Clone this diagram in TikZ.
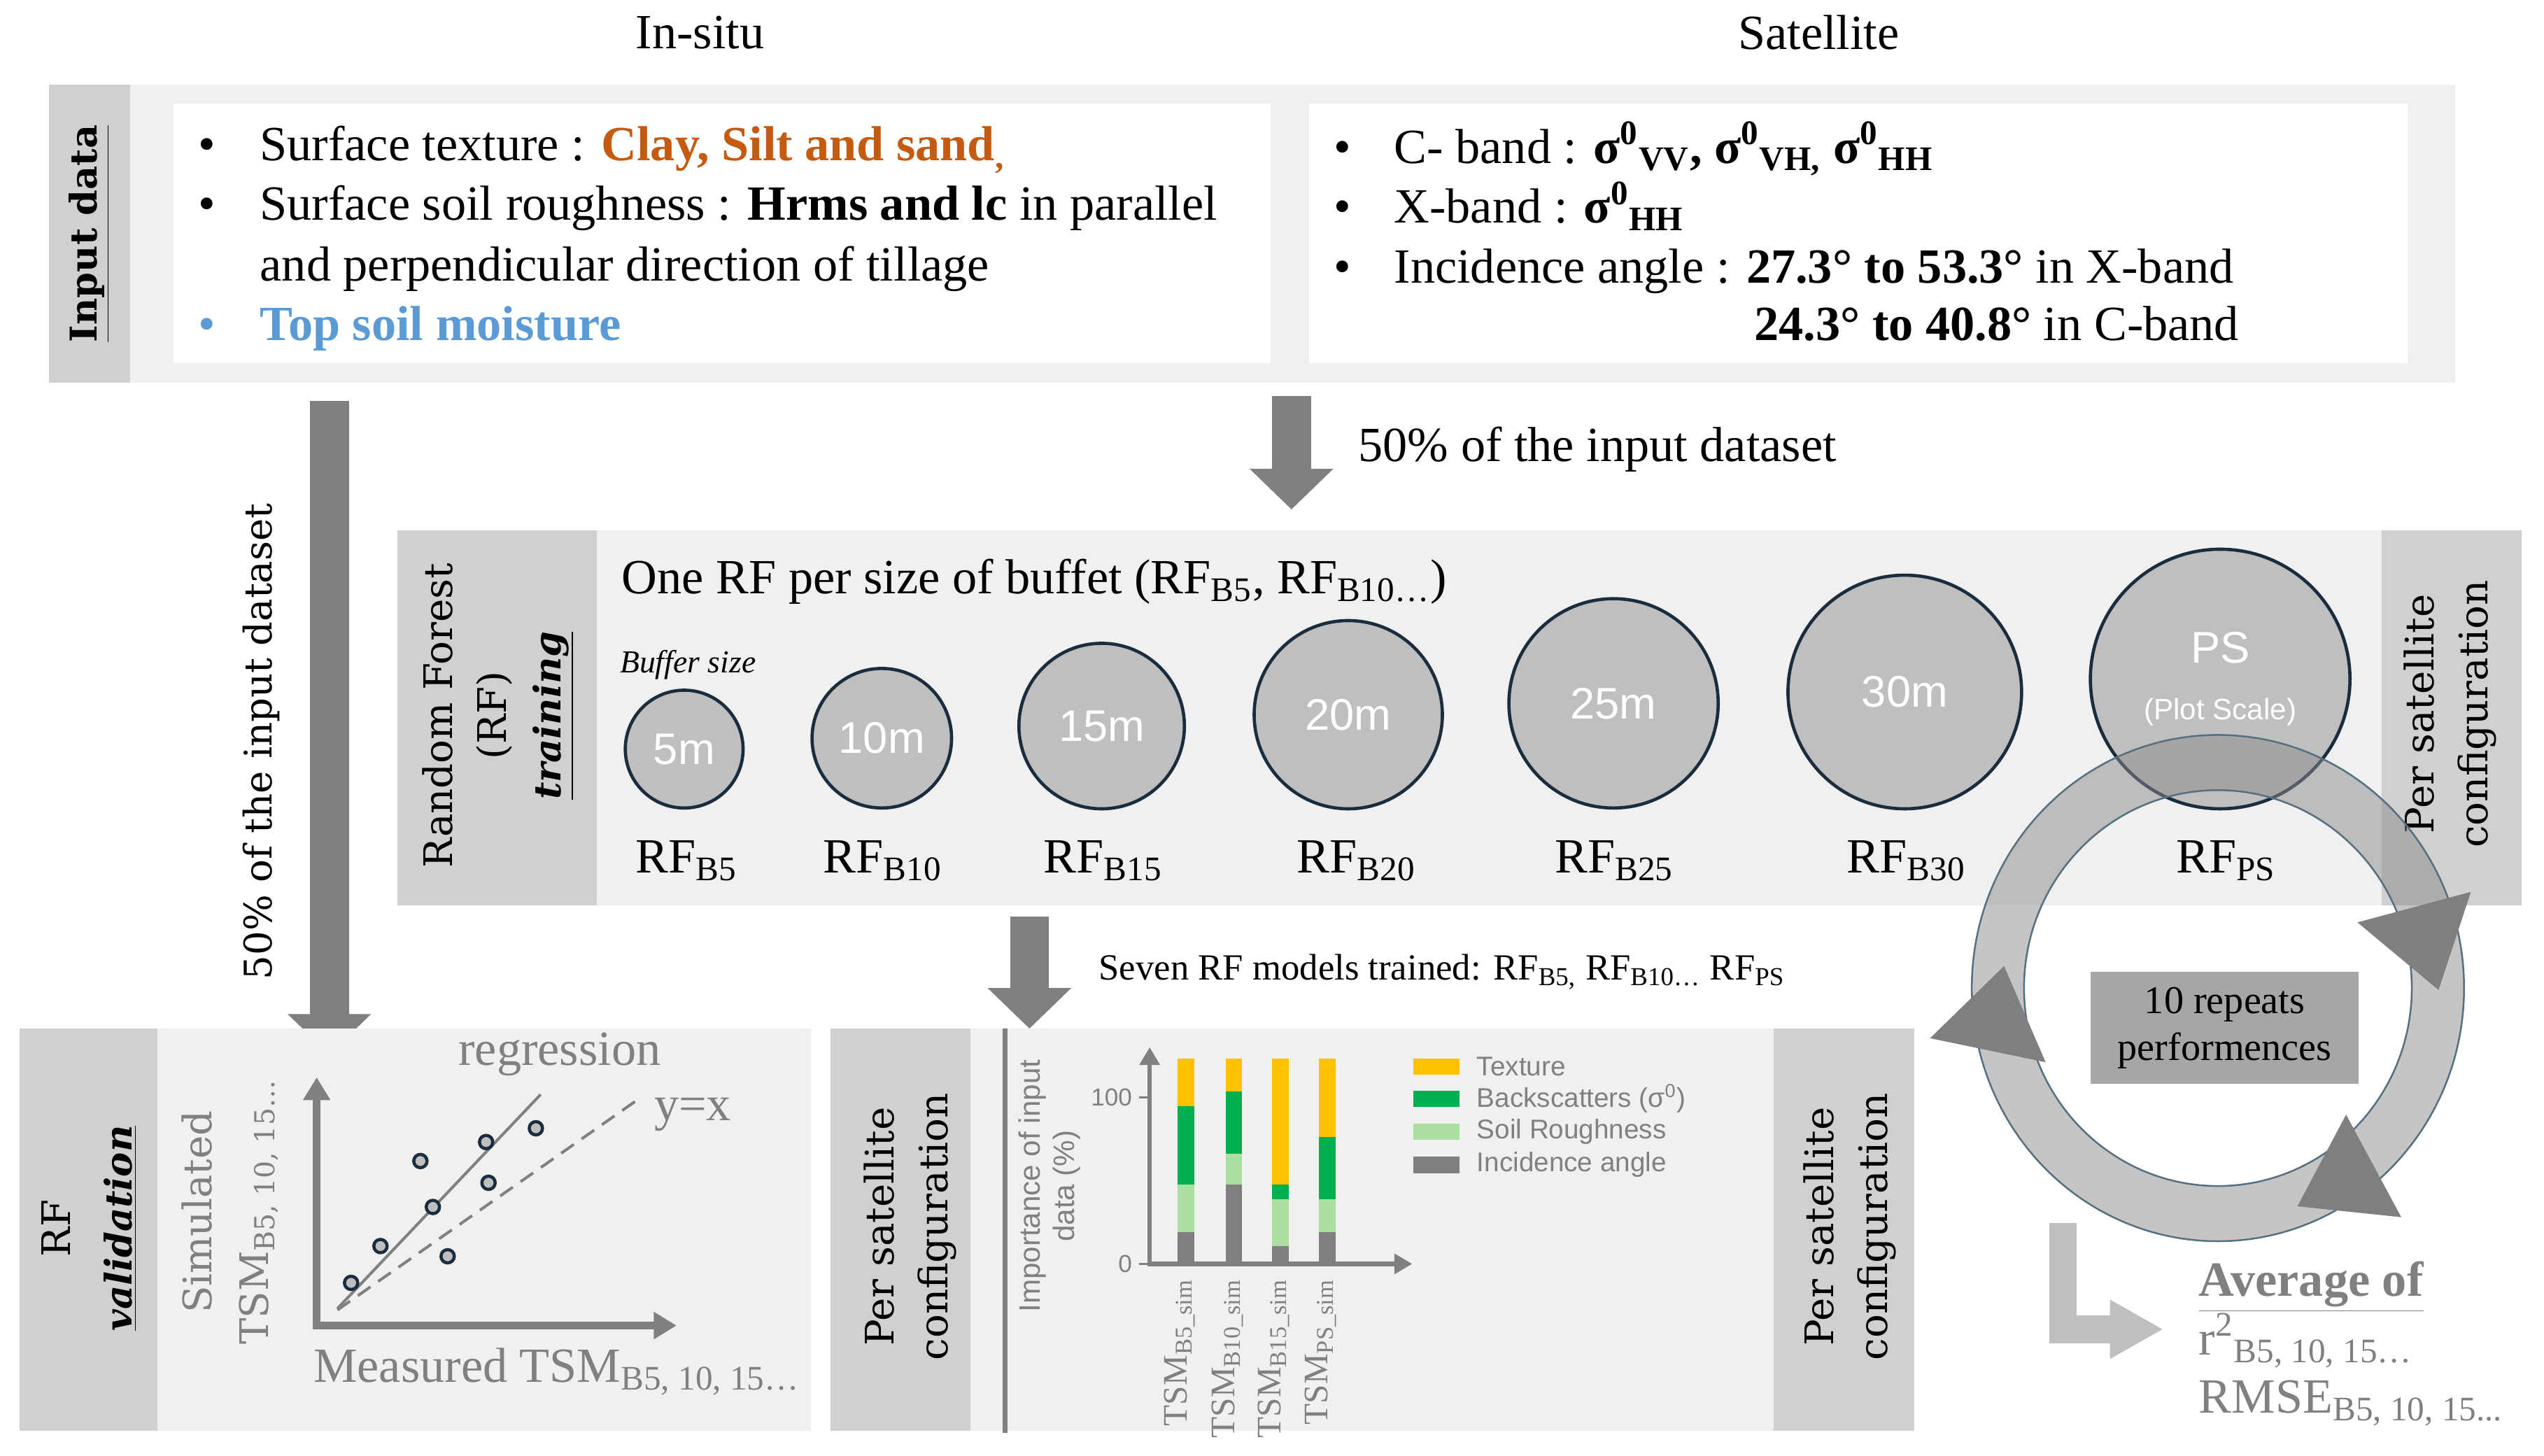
\documentclass[tikz,border=0pt]{standalone}
\usepackage{fontspec}
\setmainfont{Liberation Serif}
\newfontfamily\cambria{DejaVu Serif}
\newfontfamily\arial{Liberation Sans}
\usetikzlibrary{arrows.meta}

\definecolor{panelgrey}{HTML}{F0F0F0}
\definecolor{stripgrey}{HTML}{D0D0D0}
\definecolor{arrowgrey}{HTML}{808080}
\definecolor{bufgrey}{HTML}{BFBFBF}
\definecolor{bufedge}{HTML}{1A2D3E}
\definecolor{ringedge}{HTML}{557080}
\definecolor{boxgrey}{HTML}{A6A6A6}
\definecolor{lightarrow}{HTML}{BFBFBF}
\definecolor{clayorange}{HTML}{C55A11}
\definecolor{moistblue}{HTML}{5B9BD5}
\definecolor{textureyellow}{HTML}{FFC000}
\definecolor{backgreen}{HTML}{00B050}
\definecolor{roughgreen}{HTML}{ABDFA0}
\definecolor{anglegrey}{HTML}{7F7F7F}

\begin{document}
\begin{tikzpicture}[x=0.2319mm, y=-0.2319mm,
    every node/.style={inner sep=0pt},
    txt/.style={anchor=base west, font=\fontsize{20}{24}\selectfont},
    vlab/.style={rotate=90, align=center, font=\cambria\fontsize{16}{22}\selectfont},
    buf/.style={circle, draw=bufedge, fill=bufgrey, line width=0.46mm, minimum size=#1*0.4638mm, text=white, font=\arial\fontsize{18}{20}\selectfont},
    rflab/.style={anchor=base, font=\fontsize{20}{24}\selectfont},
    bigarrow/.style={draw=arrowgrey, line width=5.57mm, -{Triangle[width=11.6mm, length=5.8mm]}},
    axisarrow/.style={draw=arrowgrey, line width=1.11mm, line join=miter, {Triangle[width=3.7mm, length=3.25mm]}-{Triangle[width=3.7mm, length=3.25mm]}},
    chartaxis/.style={draw=arrowgrey, line width=0.65mm, line join=miter, {Triangle[width=2.8mm, length=2.55mm]}-{Triangle[width=2.8mm, length=2.55mm]}},
    dot/.style={circle, draw=bufedge, fill=bufgrey, line width=0.45mm, minimum size=1.9mm},
    barlab/.style={rotate=90, anchor=east, text=arrowgrey, font=\fontsize{14}{16}\selectfont},
    legtxt/.style={anchor=west, text=arrowgrey, font=\arial\fontsize{11}{13}\selectfont},
    greytxt/.style={text=arrowgrey, font=\fontsize{20}{24}\selectfont}
]
\useasboundingbox (0,0) rectangle (1568,897);

% input data
\node[font=\fontsize{20}{24}\selectfont] (insitu) at (431.5,20) {In-situ};
\node[font=\fontsize{20}{24}\selectfont] (sat) at (1121,20) {Satellite};
\fill[panelgrey] (30,52) rectangle (1513,236);
\fill[stripgrey] (30,52) rectangle (80,236);
\fill[white] (107,64) rectangle (783,224);
\fill[white] (807,64) rectangle (1484,224);
\node[rotate=90, font=\cambria\bfseries\fontsize{15}{18}\selectfont] (input) at (55,144) {\underline{Input data}};

\node[txt] (bl1) at (122,99) {•};
\node[txt] (in1) at (160,99) {Surface texture : {\color{clayorange}\bfseries Clay, Silt and sand\textsubscript{,}}};
\node[txt] (bl2) at (122,135.5) {•};
\node[txt] (in2) at (160,135.5) {Surface soil roughness : \textbf{Hrms and lc} in parallel};
\node[txt] (in3) at (160,173) {and perpendicular direction of tillage};
\node[txt, text=moistblue] (bl4) at (122,210) {•};
\node[txt, text=moistblue] (in4) at (160,210) {\bfseries Top soil moisture};

\node[txt] (bs1) at (822,100.5) {•};
\node[txt] (sa1) at (859,100.5) {C- band : \textbf{σ\textsuperscript{0}\textsubscript{VV}, σ\textsuperscript{0}\textsubscript{VH,} σ\textsuperscript{0}\textsubscript{HH}}};
\node[txt] (bs2) at (822,137.5) {•};
\node[txt] (sa2) at (859,137.5) {X-band : \textbf{σ\textsuperscript{0}\textsubscript{HH}}};
\node[txt] (bs3) at (822,174.5) {•};
\node[txt] (sa3) at (859,174.5) {Incidence angle : \textbf{27.3° to 53.3°} in X-band};
\node[txt] (sa4) at (1081,210) {\textbf{24.3° to 40.8°} in C-band};

% arrows out of the input data
\coordinate (aL0) at (203,247);
\coordinate (aL1) at (203,650);
\draw[bigarrow] (aL0) -- (aL1);
\node[rotate=90, font=\cambria\fontsize{15.5}{18}\selectfont] (halfL) at (161,457) {50\% of the input dataset};
\coordinate (aM0) at (796,244);
\coordinate (aM1) at (796,314);
\draw[bigarrow] (aM0) -- (aM1);
\node[anchor=west, font=\fontsize{20}{24}\selectfont] (halfM) at (837,277) {50\% of the input dataset};

% training
\fill[panelgrey] (245,327) rectangle (1554,558);
\fill[stripgrey] (245,327) rectangle (368,558);
\fill[stripgrey] (1468,327) rectangle (1554,558);
\node[vlab] (train) at (307,441) {Random Forest\\(RF)\\{\bfseries\itshape\fontsize{15}{22}\selectfont\underline{training}}};
\node[vlab] (perT) at (1510,440) {Per satellite\\configuration};
\node[txt] (onerf) at (383,366) {One RF per size of buffet (RF\textsubscript{B5}, RF\textsubscript{B10…})};
\node[font=\itshape\fontsize{13}{15}\selectfont] (bsize) at (424,410) {Buffer size};

\foreach \cx/\cy/\rad/\sz/\nm in {421.7/461.7/36.3/5m/b5, 543.5/455/43/10m/b10, 679/447.5/51/15m/b15, 831/440.5/58/20m/b20, 994.5/433.5/64.5/25m/b25, 1174/426.5/72/30m/b30}
  \node[buf=\rad] (\nm) at (\cx,\cy) {\sz};
\node[buf=80, align=center] (ps) at (1368.4,418.5) {PS\\[3pt]{\fontsize{12}{14}\selectfont (Plot Scale)}};

\foreach \lx/\sub/\nm in {423/B5/b5, 544/B10/b10, 680/B15/b15, 836/B20/b20, 995/B25/b25, 1175/B30/b30, 1372/PS/ps}
  \node[rflab] (rf\nm) at (\lx,538) {RF\textsubscript{\sub}};

% repeats
\coordinate (ring) at (1367,609);
\fill[black!45, fill opacity=0.5, even odd rule] (ring) ellipse [x radius=35.18mm, y radius=36.18mm] (ring) ellipse [x radius=27.71mm, y radius=28.29mm];
\draw[ringedge, line width=0.25mm] (ring) ellipse [x radius=35.18mm, y radius=36.18mm];
\draw[ringedge, line width=0.25mm] (ring) ellipse [x radius=27.71mm, y radius=28.29mm];
\fill[anglegrey] (1453,568.5) -- (1522.9,549.7) -- (1503,610.2) -- cycle;
\fill[anglegrey] (1189.6,639.9) -- (1235.2,595.4) -- (1260.8,654.7) -- cycle;
\fill[anglegrey] (1446,687) -- (1416,743.5) -- (1480,750.2) -- cycle;
\node[fill=boxgrey, minimum width=38.3mm, minimum height=16mm, align=center, font=\fontsize{16}{19}\selectfont] (rep) at (1371.2,633.5) {10 repeats\\performences};

\coordinate (lar0) at (1271.5,753.7);
\coordinate (lar1) at (1333.4,819.3);
\draw[lightarrow, line width=3.94mm, -{Triangle[width=7.9mm, length=7.65mm]}] (lar0) |- (lar1);
\node[anchor=base west, text=arrowgrey, font=\bfseries\fontsize{20}{24}\selectfont] (avg) at (1355,799) {\underline{Average of}};
\node[anchor=base west, greytxt] (r2) at (1355,835) {r\textsuperscript{2}\textsubscript{B5, 10, 15…}};
\node[anchor=base west, greytxt] (rmse) at (1355,871) {RMSE\textsubscript{B5, 10, 15...}};

% validation
\fill[panelgrey] (12,634) rectangle (500,882);
\fill[stripgrey] (12,634) rectangle (97,882);
\node[vlab, font=\cambria\fontsize{16}{25}\selectfont] (valid) at (55,757) {RF\\{\bfseries\itshape\fontsize{15}{25}\selectfont\underline{validation}}};
\node[vlab, text=arrowgrey, font=\cambria\fontsize{16}{23}\selectfont] (simu) at (142,747) {Simulated\\TSM\textsubscript{B5, 10, 15…}};

\coordinate (org) at (195.2,817);
\coordinate (ytip) at (195.2,664);
\coordinate (xtip) at (417,817);
\coordinate (rg0) at (208,806.5);
\coordinate (rg1) at (333.2,674.6);
\coordinate (yx0) at (208,807.4);
\coordinate (yx1) at (392,678.5);
\draw[arrowgrey, line width=0.4mm] (rg0) -- (rg1);
\draw[arrowgrey, line width=0.4mm, dash pattern=on 2.2mm off 1.35mm] (yx0) -- (yx1);
\draw[axisarrow] (ytip) -- (org) -- (xtip);
\foreach \px/\py [count=\i] in {216.4/790.7, 234.5/768, 259.1/715.6, 266.8/743.9, 275.9/774.3, 299.6/703.9, 301.1/729, 330.3/695.4}
  \node[dot] (pt\i) at (\px,\py) {};
\node[greytxt] (regr) at (345,650) {regression};
\node[greytxt] (yx) at (427,687) {y=x};
\node[anchor=base west, greytxt] (meas) at (193,852) {Measured TSM\textsubscript{B5, 10, 15…}};

% importance of the input data
\fill[panelgrey] (512,634) rectangle (1180,882);
\fill[stripgrey] (512,634) rectangle (598,882);
\fill[stripgrey] (1093,634) rectangle (1180,882);
\node[vlab] (perB1) at (561,756) {Per satellite\\configuration};
\node[vlab] (perB2) at (1140,756) {Per satellite\\configuration};
\coordinate (vl0) at (619.4,634);
\coordinate (vl1) at (619.4,883);
\draw[arrowgrey, line width=0.65mm] (vl0) -- (vl1);
\coordinate (aB0) at (634.5,565);
\coordinate (aB1) at (634.5,634);
\draw[bigarrow] (aB0) -- (aB1);
\node[anchor=base west, font=\fontsize{15}{18}\selectfont] (seven) at (677,604) {Seven RF models trained: RF\textsubscript{B5,} RF\textsubscript{B10…} RF\textsubscript{PS}};

\foreach \cx/\ga/\lg/\gr in {731/759.4/730.1/681.8, 760.5/730.1/711.2/672.9, 789/768.2/739.2/730.1, 818/759.4/739.2/700.9}{
  \fill[anglegrey] (\cx-5.15,779) rectangle (\cx+5.15,\ga);
  \fill[roughgreen] (\cx-5.15,\ga) rectangle (\cx+5.15,\lg);
  \fill[backgreen] (\cx-5.15,\lg) rectangle (\cx+5.15,\gr);
  \fill[textureyellow] (\cx-5.15,\gr) rectangle (\cx+5.15,652.3);
}
\coordinate (corg) at (708.6,779);
\coordinate (ctop) at (708.6,645.4);
\coordinate (cright) at (870.4,779);
\draw[chartaxis] (ctop) -- (corg) -- (cright);
\draw[arrowgrey, line width=0.3mm] (702,676.2) -- (708.6,676.2);
\draw[arrowgrey, line width=0.3mm] (702,779) -- (708.6,779);
\node[anchor=east, text=arrowgrey, font=\arial\fontsize{10}{12}\selectfont] (t100) at (698,676.2) {100};
\node[anchor=east, text=arrowgrey, font=\arial\fontsize{10}{12}\selectfont] (t0) at (698,779) {0};
\node[rotate=90, align=center, text=arrowgrey, font=\arial\fontsize{12}{14}\selectfont] (ylab) at (647,731) {Importance of input\\data (\%)};
\foreach \cx/\sub in {731/B5, 760.5/B10, 789/B15, 818/PS}
  \node[barlab] (bl\sub) at (\cx-4,788) {TSM\textsubscript{\sub\_sim}};
\foreach \ly/\col/\lab [count=\i] in {657.5/textureyellow/Texture, 677.2/backgreen/{Backscatters (σ\textsuperscript{0})}, 697.6/roughgreen/Soil Roughness, 718/anglegrey/Incidence angle}{
  \fill[\col] (871.3,\ly-5) rectangle (899.4,\ly+5);
  \node[legtxt] (leg\i) at (910,\ly) {\lab};
}
\end{tikzpicture}
\end{document}
